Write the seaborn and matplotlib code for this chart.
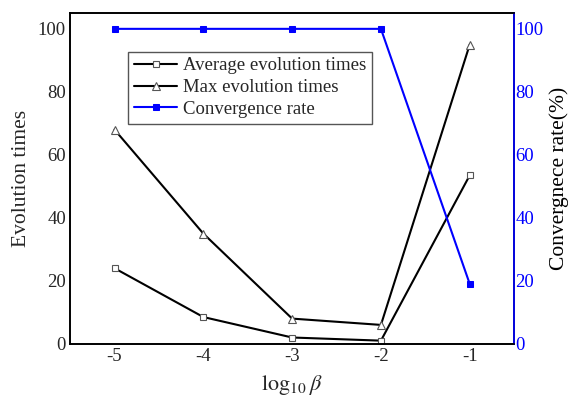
import matplotlib
matplotlib.use('Agg')
import matplotlib.pyplot as plt
import pandas as pd
import seaborn as sns

# data
log_beta = [-5, -4, -3, -2, -1]
avg_times = [24, 8.5, 2, 1, 53.5]
max_times = [68, 35, 8, 6, 95]
conv_rate = [100, 100, 100, 100, 19]

df = pd.DataFrame({'beta': log_beta, 'avg': avg_times, 'max': max_times, 'conv': conv_rate})

sns.set_style('white')
plt.rcParams['font.family'] = ['Liberation Serif', 'DejaVu Serif']
plt.rcParams['mathtext.fontset'] = 'stix'
plt.rcParams['axes.unicode_minus'] = False

fig, ax = plt.subplots(figsize=(5.7, 3.97), dpi=100)
ax2 = ax.twinx()

sns.lineplot(data=df, x='beta', y='avg', ax=ax, color='black', marker='s', markersize=5,
             markerfacecolor='white', markeredgecolor='#555555', markeredgewidth=0.8,
             linewidth=1.5, label='Average evolution times', legend=False)
sns.lineplot(data=df, x='beta', y='max', ax=ax, color='black', marker='^', markersize=6,
             markerfacecolor='white', markeredgecolor='#555555', markeredgewidth=0.8,
             linewidth=1.5, label='Max evolution times', legend=False)
sns.lineplot(data=df, x='beta', y='conv', ax=ax2, color='blue', marker='s', markersize=5,
             markerfacecolor='blue', markeredgecolor='blue',
             linewidth=1.5, label='Convergence rate', legend=False)

ax.set_xlim(-5.5, -0.5)
ax.set_ylim(0, 105)
ax2.set_ylim(0, 105)
ax.set_xticks(log_beta)
ax.set_xticklabels([str(v) for v in log_beta])
ax.set_yticks([0, 20, 40, 60, 80, 100])
ax2.set_yticks([0, 20, 40, 60, 80, 100])

ax.tick_params(axis='both', length=0, labelsize=13.5, pad=3)
ax2.tick_params(axis='y', length=0, labelsize=13.5, colors='blue', pad=1)

for sp in ax.spines.values():
    sp.set_color('black')
    sp.set_linewidth(1.2)
for name, sp in ax2.spines.items():
    sp.set_color('black')
    sp.set_linewidth(1.2)
ax2.spines['right'].set_color('blue')

ax.set_xlabel(r'$\log_{10}\beta$', fontsize=16, labelpad=6)
ax.set_ylabel('Evolution times', fontsize=15.5, labelpad=5)
ax2.set_ylabel('Convergnece rate(%)', fontsize=15.5, color='black', labelpad=4)

h1, l1 = ax.get_legend_handles_labels()
h2, l2 = ax2.get_legend_handles_labels()
leg = ax2.legend(h1 + h2, l1 + l2, loc='upper left', bbox_to_anchor=(0.11, 0.912),
                 fontsize=13.5, frameon=True, fancybox=False, framealpha=1,
                 edgecolor='#555555', handlelength=2.3, borderpad=0.3,
                 labelspacing=0.25, handletextpad=0.3)
leg.get_frame().set_linewidth(1.0)

fig.subplots_adjust(left=0.123, right=0.902, top=0.967, bottom=0.134)
fig.savefig('out.png', dpi=100)
